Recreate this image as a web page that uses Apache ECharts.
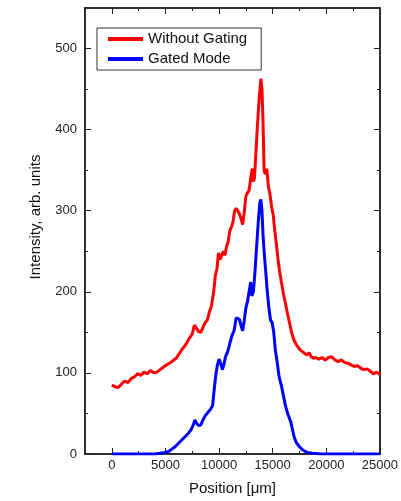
<!DOCTYPE html>
<html>
<head>
<meta charset="utf-8">
<script src="https://cdn.jsdelivr.net/npm/echarts@6/dist/echarts.min.js"></script>
<style>html,body{margin:0;padding:0;background:#fff}#c{width:401px;height:501px}</style>
</head>
<body>
<div id="c"></div>
<script>
var seriesNames = ['Without Gating', 'Gated Mode'];
var xTicks = [0, 5000, 10000, 15000, 20000, 25000];
var xMinorTicks = [-2500, 2500, 7500, 12500, 17500, 22500];
var yTicks = [0, 100, 200, 300, 400, 500];
var yMinorTicks = [50, 150, 250, 350, 450];

var redX = [0,300,600,900,1200,1500,1800,2100,2400,2700,3000,3300,3600,3900,4200,4500,4800,5100,5400,5700,6000,6300,6600,6900,7200,7500,7700,7900,8100,8300,8500,8700,8900,9100,9300,9500,9650,9800,9950,10100,10250,10400,10550,10700,10850,11000,11150,11300,11450,11600,11750,11900,12050,12200,12350,12500,12650,12800,12950,13100,13200,13300,13450,13600,13750,13900,14000,14100,14200,14300,14450,14600,14750,14900,15050,15200,15350,15500,15650,15800,16000,16200,16400,16600,16800,17000,17200,17400,17600,17800,18000,18200,18400,18600,18800,19000,19300,19600,19900,20200,20500,20800,21100,21400,21700,22000,22300,22600,22900,23200,23500,23800,24100,24400,24700,25000];
var redY = [85,83,82,86,90,88,93,95,99,97,101,99,103,100,101,104,107,110,112,115,118,124,130,135,142,148,159,155,151,150,156,162,165,175,183,200,220,228,248,240,238,250,245,256,262,275,280,286,300,303,300,296,290,283,298,318,322,325,340,352,336,340,375,410,440,463,450,410,350,345,352,330,320,305,295,275,258,240,225,213,198,185,172,160,148,140,135,131,128,126,124,122,125,120,118,119,117,119,116,119,120,116,114,116,113,112,110,108,109,106,104,105,102,99,101,98];

var blueX = [0,1000,2000,3000,4000,4500,5000,5300,5600,5900,6200,6500,6800,7100,7400,7600,7750,7900,8100,8300,8500,8700,8850,9000,9200,9400,9550,9700,9850,10000,10150,10300,10450,10600,10800,11000,11200,11400,11600,11750,11900,12050,12200,12350,12500,12650,12800,12950,13050,13200,13350,13500,13650,13800,13900,14000,14100,14200,14350,14500,14650,14800,14950,15100,15250,15400,15600,15800,16000,16200,16400,16700,17000,17200,17500,17800,18200,18700,19500,21000,23000,25000];
var blueY = [0,0,0,0,0,1,2,3,6,9,13,17,21,25,30,36,42,38,35,36,42,47,45,52,55,60,80,98,110,117,112,104,110,120,126,136,146,152,168,170,166,158,152,165,180,188,200,212,195,200,225,255,285,310,314,300,270,250,225,200,180,165,162,150,128,115,95,85,72,59,50,39,21,14,9,5,2,1,0,0,0,0];

function pairs(xs, ys) { return xs.map(function (x, i) { return [x, ys[i]]; }); }

var font = 'Liberation Sans, Arial, sans-serif';
var axisColor = '#222';

function xAxisDef(pos, custom, len, labels) {
  return {
    type: 'value', min: -2500, max: 25000, position: pos,
    axisLine: { show: true, onZero: false, lineStyle: { color: axisColor, width: 1.5 } },
    axisTick: { show: true, inside: true, length: len, customValues: custom, lineStyle: { color: axisColor, width: 1 } },
    axisLabel: labels ? { show: true, customValues: xTicks, formatter: function (v) { return String(v); }, color: '#222', fontSize: 13, fontFamily: font, margin: 5 } : { show: false },
    splitLine: { show: false }
  };
}
function yAxisDef(pos, custom, len, labels) {
  return {
    type: 'value', min: 0, max: 550, position: pos,
    axisLine: { show: true, onZero: false, lineStyle: { color: axisColor, width: 1.5 } },
    axisTick: { show: true, inside: true, length: len, customValues: custom, lineStyle: { color: axisColor, width: 1 } },
    axisLabel: labels ? { show: true, customValues: yTicks, formatter: function (v) { return String(v); }, color: '#222', fontSize: 13, fontFamily: font, margin: 8 } : { show: false },
    splitLine: { show: false }
  };
}

var xAxes = [
  xAxisDef('bottom', xTicks, 6, true),
  xAxisDef('bottom', xMinorTicks, 3, false),
  xAxisDef('top', xTicks, 6, false),
  xAxisDef('top', xMinorTicks, 3, false)
];
xAxes[0].name = 'Position [\u03bcm]';
xAxes[0].nameLocation = 'middle';
xAxes[0].nameGap = 27;
xAxes[0].nameTextStyle = { fontSize: 15, fontFamily: font, color: '#111' };

var yAxes = [
  yAxisDef('left', yTicks, 6, true),
  yAxisDef('left', yMinorTicks, 3, false),
  yAxisDef('right', yTicks, 6, false),
  yAxisDef('right', yMinorTicks, 3, false)
];
yAxes[0].name = 'Intensity, arb. units';
yAxes[0].nameLocation = 'middle';
yAxes[0].nameGap = 42;
yAxes[0].nameTextStyle = { fontSize: 15, fontFamily: font, color: '#111', padding: [0, 0, 0, 28] };

var chart = echarts.init(document.getElementById('c'), null, { renderer: 'canvas' });
chart.setOption({
  animation: false,
  backgroundColor: '#fff',
  grid: { left: 85, right: 20, top: 8, bottom: 46, containLabel: false },
  legend: {
    orient: 'vertical', left: 97, top: 28,
    data: seriesNames,
    icon: 'rect',
    itemWidth: 35, itemHeight: 4, itemGap: 4,
    padding: [3, 14, 3, 11],
    borderColor: '#333', borderWidth: 1,
    textStyle: { fontSize: 15, fontFamily: font, color: '#111', lineHeight: 16 }
  },
  xAxis: xAxes,
  yAxis: yAxes,
  series: [
    { name: seriesNames[0], type: 'line', xAxisIndex: 0, yAxisIndex: 0, data: pairs(redX, redY), showSymbol: false, symbol: 'none', lineStyle: { color: '#ff0000', width: 3 }, itemStyle: { color: '#ff0000' } },
    { name: seriesNames[1], type: 'line', xAxisIndex: 0, yAxisIndex: 0, data: pairs(blueX, blueY), showSymbol: false, symbol: 'none', lineStyle: { color: '#0000ff', width: 3 }, itemStyle: { color: '#0000ff' } }
  ]
});
</script>
</body>
</html>
